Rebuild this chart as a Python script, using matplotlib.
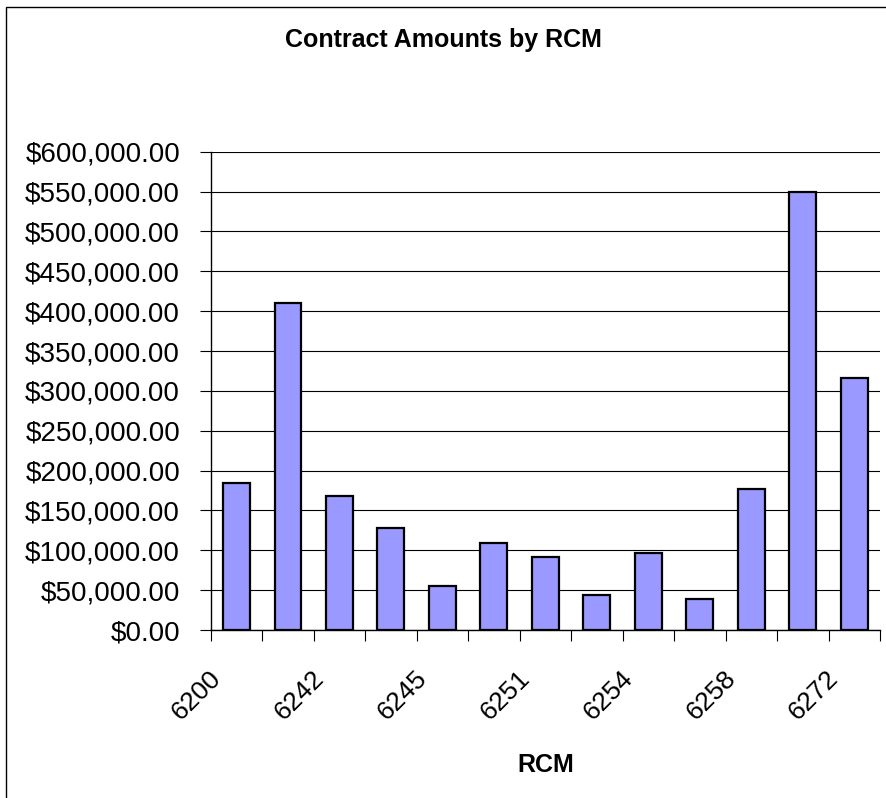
import matplotlib
matplotlib.use("Agg")
import matplotlib.pyplot as plt
import numpy as np
from matplotlib.patches import Rectangle
from matplotlib.ticker import FuncFormatter, MultipleLocator
from matplotlib.transforms import ScaledTranslation

# Contract amounts per RCM (only every other RCM is labelled in the source)
rcm_codes = ["6200", "6241", "6242", "6243", "6245", "6250", "6251",
             "6253", "6254", "6257", "6258", "6270", "6272"]
amounts = [185000, 410000, 168500, 127500, 55500, 109500, 92000,
           44500, 97000, 39500, 177500, 550000, 316000]

plt.rcParams["font.family"] = ["Liberation Sans", "DejaVu Sans"]

fig = plt.figure(figsize=(8.87, 7.98), dpi=100)
ax = fig.add_axes([0.2375, 0.2105, 0.9921 - 0.2375, 0.8099 - 0.2105])

x = np.arange(len(rcm_codes))
ax.bar(x, amounts, width=0.52, color="#9999FF", edgecolor="black",
       linewidth=1.6, zorder=3)

ax.set_xlim(-0.5, len(rcm_codes) - 0.5)
ax.set_ylim(0, 600000)
ax.yaxis.set_major_locator(MultipleLocator(50000))
ax.yaxis.set_major_formatter(FuncFormatter(lambda v, _: f"${v:,.2f}"))
ax.grid(axis="y", color="black", linewidth=0.8, zorder=0)

# tick marks sit between categories, labels on every other bar
ax.set_xticks(np.arange(len(rcm_codes) + 1) - 0.5)
ax.set_xticklabels([])
ax.set_xticks(x[::2], minor=True)
ax.set_xticklabels(rcm_codes[::2], minor=True, rotation=45, ha="right",
                   va="top", fontsize=19)
ax.tick_params(axis="x", which="minor", length=0, pad=26)
ax.tick_params(axis="x", which="major", length=8, width=0.8, direction="out")
ax.tick_params(axis="y", length=8, width=0.8, direction="out",
               labelsize=20, pad=14)

# nudge the rotated labels a little left, like Excel does
shift = ScaledTranslation(-11 / 100, 0, fig.dpi_scale_trans)
for lbl in ax.get_xticklabels(minor=True):
    lbl.set_transform(lbl.get_transform() + shift)

for side in ["top", "right"]:
    ax.spines[side].set_visible(False)
for side in ["left", "bottom"]:
    ax.spines[side].set_linewidth(1.0)

ax.set_xlabel("RCM", fontsize=18, fontweight="bold", labelpad=20)
fig.text(0.5, 1 - 40 / 798, "Contract Amounts by RCM", ha="center",
         va="center", fontsize=18, fontweight="bold")

# chart area border (runs off the right and bottom edges)
fig.patches.append(Rectangle((6 / 887, -0.1), 1.2, 1.1 - 7 / 798,
                             transform=fig.transFigure, fill=False,
                             edgecolor="black", linewidth=1.0))

fig.savefig("out.png", dpi=100)
